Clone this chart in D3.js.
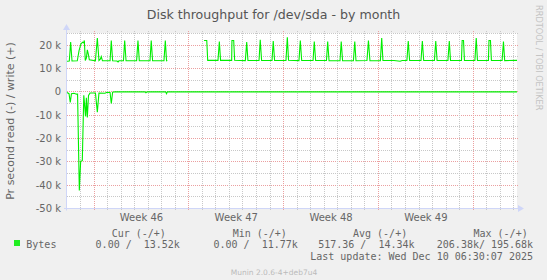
<!DOCTYPE html>
<html><head><meta charset="utf-8">
<script src="https://cdn.jsdelivr.net/npm/d3@7"></script>
<style>
html,body{margin:0;padding:0;background:#f0f0f0;}
svg{display:block;}
text{font-family:"DejaVu Sans",sans-serif;}
.mono{font-family:"DejaVu Sans Mono",monospace;white-space:pre;}
</style></head>
<body><svg id="chart" width="547" height="280"></svg>
<script>
// ---------------- data ----------------
const title = "Disk throughput for /dev/sda - by month";
const yAxisTitle = "Pr second read (-) / write (+)";
const yTickValues = [20000, 10000, 0, -10000, -20000, -30000, -40000, -50000];
const yTickLabels = ["20 k", "10 k", "0", "-10 k", "-20 k", "-30 k", "-40 k", "-50 k"];
const weekLabels = ["Week 46", "Week 47", "Week 48", "Week 49"];
const weekLabelDays = [5.5, 12.5, 19.5, 26.5];       // label anchors, days from graph start
const weekStartDays = [1.957, 8.957, 15.957, 22.957, 29.957];
const periodDays = 33.23;

// write (+) series: time in days since start, bytes per second (null = no data)
const writeDays = [0.00,0.17,0.27,0.37,0.76,0.89,1.03,1.16,1.23,1.28,1.35,1.43,1.50,1.57,1.65,
  2.10,2.24,2.36,2.46,2.53,2.62,3.18,3.27,3.37,3.69,3.77,3.84,4.17,4.26,4.36,5.14,5.24,5.34,
  6.13,6.22,6.32,7.16,7.26,7.35,7.41,8.70,
  10.12,10.32,10.39,11.15,11.25,11.34,12.16,12.18,12.31,12.38,13.17,13.27,13.36,14.18,14.27,14.37,
  15.14,15.23,15.33,16.17,16.27,16.36,17.13,17.23,17.33,18.17,18.26,18.36,19.16,19.25,19.35,
  20.16,20.25,20.35,21.15,21.25,21.34,22.15,22.26,22.37,23.14,23.24,23.33,24.15,24.60,24.75,25.10,25.20,25.30,
  26.14,26.24,26.34,27.13,27.23,27.33,28.13,28.23,28.32,29.13,29.18,29.28,29.35,30.12,30.22,30.31,
  31.12,31.16,31.27,31.34,32.13,32.23,32.32,33.23];
const writeBytes = [13100,13200,21300,13200,13300,17700,20600,21300,21000,22000,13400,14500,18000,16300,13700,
  13300,23100,13400,14000,15100,13300,13300,22000,13300,13200,12800,13300,13300,22000,13300,13300,22000,13300,
  13300,22000,13300,13300,22000,13300,13400,null,
  22000,22000,13500,13500,21600,13500,13500,22000,22000,13500,13400,21300,13400,13400,22300,13400,
  13400,21800,13400,13400,23400,13500,13400,22000,13400,13400,21600,13400,13400,21600,13300,
  13300,21600,13300,13300,21600,13300,13400,22000,13300,13300,23100,13400,13400,13100,13400,13400,21800,13400,
  13400,21800,13400,13400,21800,13400,13400,21800,13400,13400,22000,22000,13400,13400,23100,13400,
  13400,22000,22000,13400,13400,21600,13400,13500];

// read (-) series: bytes per second (drawn below zero)
const readDays = [0.00,0.15,0.24,0.33,0.52,0.70,0.78,0.91,1.01,1.13,1.24,1.37,1.43,1.50,1.59,1.70,
  2.10,2.24,2.36,2.81,2.95,3.18,3.27,3.37,3.54,5.76,5.83,5.91,7.28,7.35,7.41,33.23];
const readBytes = [300,800,4500,800,600,1000,1000,42300,29700,29500,1500,10500,2500,11000,1500,500,
  500,8700,500,600,200,300,5000,200,0,0,400,0,0,800,0,0];

// legend
const legendHeader = ["Cur (-/+)", "Min (-/+)", "Avg (-/+)", "Max (-/+)"];
const legendName = "Bytes";
const legendValues = ["0.00 /  13.52k", "0.00 /  11.77k", "517.36 /  14.34k", "206.38k/ 195.68k"];
const lastUpdate = "Last update: Wed Dec 10 06:30:07 2025";
const watermark = "Munin 2.0.6-4+deb7u4";
const sideText = "RRDTOOL / TOBI OETIKER";

// ---------------- drawing ----------------
(function () {
const svg = d3.select("#chart");
const W = 547, H = 280;
const pL = 67, pR = 517, pT = 33.5, pB = 208.5;
const lineColor = "#00ee00";
const fontColor = "#666666";
const axisColor = "#cfd6f8";

svg.append("rect").attr("width", W).attr("height", H).attr("fill", "#f0f0f0");
svg.append("rect").attr("x", pL).attr("y", 33).attr("width", pR - pL).attr("height", pB - 33)
  .attr("fill", "#ffffff");

const x = d3.scaleLinear().domain([0, periodDays]).range([pL, pR]);
const y = d3.scaleLinear().domain([-50000, 25000]).range([pB, pT]);
const px = v => Math.round(v) + 0.5;

const grid = svg.append("g");
d3.range(-45000, 25001, 5000).forEach(v => {
  const major = v % 10000 === 0;
  grid.append("line").attr("x1", pL).attr("x2", pR + 2)
    .attr("y1", px(y(v) - 0.5)).attr("y2", px(y(v) - 0.5))
    .attr("stroke", major ? "#eba0a0" : "#c8c8c8").attr("stroke-dasharray", "1,1");
});
d3.range(0.957, periodDays, 1).forEach(d => {
  const major = weekStartDays.some(w => Math.abs(w - d) < 0.01);
  grid.append("line").attr("x1", px(x(d))).attr("x2", px(x(d)))
    .attr("y1", 31).attr("y2", pB + 2)
    .attr("stroke", major ? "#eba0a0" : "#c8c8c8").attr("stroke-dasharray", "1,1");
});

const ax = svg.append("g");
ax.append("line").attr("x1", pL - 0.5).attr("x2", pL - 0.5).attr("y1", pB + 2).attr("y2", 29)
  .attr("stroke", axisColor);
ax.append("line").attr("x1", pL - 3).attr("x2", pR + 2).attr("y1", pB).attr("y2", pB)
  .attr("stroke", axisColor);
ax.append("path").attr("d", `M${pL - 4},30 L${pL - 0.5},24 L${pL + 3},30 Z`).attr("fill", axisColor);
ax.append("path").attr("d", `M${pR + 1},${pB - 3.5} L${pR + 7},${pB} L${pR + 1},${pB + 3.5} Z`).attr("fill", axisColor);

yTickValues.forEach((v, i) => {
  svg.append("text").attr("x", 61).attr("y", y(v) + 3.6).attr("text-anchor", "end")
    .attr("font-size", "10px").attr("fill", fontColor).text(yTickLabels[i]);
});
weekLabels.forEach((t, i) => {
  svg.append("text").attr("x", x(weekLabelDays[i])).attr("y", 221).attr("text-anchor", "middle")
    .attr("font-size", "10px").attr("fill", fontColor).text(t);
});

const wData = writeDays.map((d, i) => [d, writeBytes[i]]);
const rData = readDays.map((d, i) => [d, readBytes[i]]);
const wLine = d3.line().defined(d => d[1] !== null).x(d => x(d[0])).y(d => y(d[1]));
const rLine = d3.line().x(d => x(d[0])).y(d => y(-d[1]));
svg.append("path").attr("d", rLine(rData)).attr("fill", "none").attr("stroke", lineColor).attr("stroke-width", 1.1);
svg.append("path").attr("d", wLine(wData)).attr("fill", "none").attr("stroke", lineColor).attr("stroke-width", 1.1);

svg.append("text").attr("x", 273.5).attr("y", 18.5).attr("text-anchor", "middle")
  .attr("font-size", "12.6px").attr("fill", "#555555").text(title);
svg.append("text").attr("transform", `translate(14,${(pT + pB) / 2}) rotate(-90)`)
  .attr("text-anchor", "middle").attr("font-size", "11px").attr("fill", fontColor).text(yAxisTitle);
svg.append("text").attr("transform", `translate(535.5,5) rotate(90)`)
  .attr("font-size", "8.2px").attr("fill", "#c4c4c4").text(sideText);

const headerX = [111.7, 232.7, 353, 473.5];
legendHeader.forEach((t, i) => {
  svg.append("text").attr("class", "mono").attr("x", headerX[i]).attr("y", 236.5)
    .attr("font-size", "10px").attr("fill", fontColor).text(t);
});
svg.append("rect").attr("x", 14).attr("y", 240).attr("width", 6).attr("height", 6).attr("fill", "#22ee22");
svg.append("text").attr("class", "mono").attr("x", 26.3).attr("y", 247.5)
  .attr("font-size", "10px").attr("fill", fontColor).text(legendName);
const valX = [95.6, 213.5, 318.2, 436.8];
legendValues.forEach((t, i) => {
  svg.append("text").attr("class", "mono").attr("x", valX[i]).attr("y", 247.5)
    .attr("font-size", "10px").attr("fill", fontColor).text(t);
});
svg.append("text").attr("class", "mono").attr("x", 533).attr("y", 260).attr("text-anchor", "end")
  .attr("font-size", "10px").attr("fill", fontColor).text(lastUpdate);
svg.append("text").attr("x", 274).attr("y", 274.5).attr("text-anchor", "middle")
  .attr("font-size", "7.5px").attr("fill", "#bbbbbb").text(watermark);
})();
</script>
</body></html>
